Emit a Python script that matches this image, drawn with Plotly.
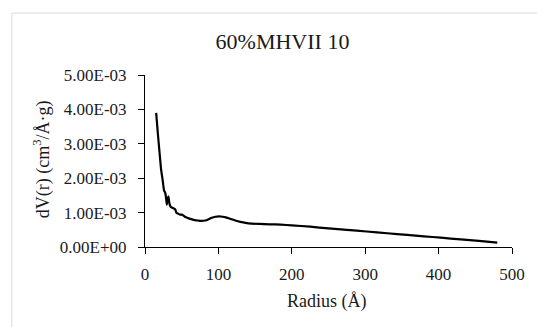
import plotly.graph_objects as go

radius = [15.2, 17.5, 20, 22, 24, 26, 27.5, 28.4, 29.7, 31, 31.9, 33, 34.1, 36, 38.6, 41, 43, 45,
          47.5, 50, 52, 55, 58.6, 63, 68, 72, 77, 82, 86, 91, 96, 101, 106, 110, 116, 123, 130,
          137, 145, 155, 170, 185, 200, 225, 250, 275, 302, 330, 357, 380, 403, 430, 455, 480]
dv_e3 = [3.90, 3.30, 2.70, 2.24, 1.95, 1.64, 1.58, 1.47, 1.23, 1.40, 1.47, 1.30, 1.20, 1.15, 1.13,
         1.10, 0.99, 0.97, 0.94, 0.94, 0.92, 0.87, 0.84, 0.81, 0.78, 0.77, 0.76, 0.77, 0.80, 0.85,
         0.88, 0.89, 0.88, 0.86, 0.82, 0.77, 0.73, 0.70, 0.68, 0.67, 0.66, 0.65, 0.63, 0.59, 0.54,
         0.50, 0.45, 0.40, 0.35, 0.31, 0.27, 0.22, 0.18, 0.13]
dv = [v * 1e-3 for v in dv_e3]

y_tickvals = [0, 0.001, 0.002, 0.003, 0.004, 0.005]
y_ticktext = ["0.00E+00", "1.00E-03", "2.00E-03", "3.00E-03", "4.00E-03", "5.00E-03"]
x_tickvals = [0, 100, 200, 300, 400, 500]

title_text = "60%MHVII 10"
x_title = "Radius (Å)"
y_title = "dV(r) (cm<sup>3</sup>/Å·g)"

W, H = 537, 327
L, R, T, B = 144.5, 19, 75, 79.7
pw, ph = W - L - R, H - T - B
font = "'Liberation Serif', 'Times New Roman', 'DejaVu Serif', serif"
tc = "#1a1a1a"

fig = go.Figure()
fig.add_trace(go.Scatter(x=radius, y=dv, mode="lines",
                         line=dict(color="black", width=2.2, shape="spline", smoothing=0.5),
                         hoverinfo="skip", showlegend=False))

def px_x(p):
    return (p - L) / pw

def px_y(p):
    return (H - B - p) / ph

fig.update_layout(
    width=W, height=H,
    margin=dict(l=L, r=R, t=T, b=B),
    paper_bgcolor="white", plot_bgcolor="white",
    font=dict(family=font, color=tc, size=17),
    title=dict(text=title_text, xref="container", yref="container",
               x=282.5 / W, y=1 - 41.7 / H, xanchor="center", yanchor="middle",
               font=dict(family=font, size=22, color=tc)),
    xaxis=dict(range=[0, 500], tickvals=x_tickvals, showgrid=False, zeroline=False,
               showline=True, linecolor="black", linewidth=1,
               ticks="outside", ticklen=6, tickcolor="black", tickwidth=1,
               ticklabelstandoff=6,
               tickfont=dict(family=font, size=17, color=tc)),
    yaxis=dict(range=[0, 0.005], tickvals=y_tickvals, ticktext=y_ticktext, showgrid=False,
               zeroline=False, showline=True, linecolor="black", linewidth=1,
               ticks="outside", ticklen=6, tickcolor="black", tickwidth=1,
               ticklabelstandoff=8,
               tickfont=dict(family=font, size=17, color=tc)),
    shapes=[dict(type="rect", xref="paper", yref="paper",
                 x0=px_x(9), x1=px_x(560), y0=px_y(345), y1=px_y(13),
                 line=dict(color="#d9d9d9", width=1), fillcolor="rgba(0,0,0,0)", layer="below")],
    annotations=[
        dict(text=x_title, xref="paper", yref="paper", x=px_x(330), y=px_y(302),
             xanchor="center", yanchor="middle", showarrow=False,
             font=dict(family=font, size=18, color=tc)),
        dict(text=y_title, xref="paper", yref="paper", x=px_x(40), y=px_y(159),
             xanchor="center", yanchor="middle", showarrow=False, textangle=-90,
             font=dict(family=font, size=18, color=tc)),
    ],
)

fig.write_html("out.html")
